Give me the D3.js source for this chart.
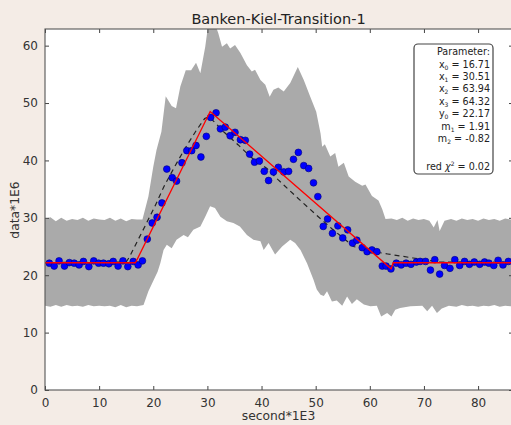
<!DOCTYPE html>
<html>
<head>
<meta charset="utf-8">
<script src="https://cdn.jsdelivr.net/npm/d3@7"></script>
<style>
	body { margin: 0; background: #f4ece6; }
	svg { display: block; font-family: "DejaVu Sans", sans-serif; }
</style>
</head>
<body>
<svg id="chart" width="511" height="425"></svg>
<script>
// measured points
const xValues = [0.8, 1.7, 2.6, 3.6, 4.5, 5.4, 6.3, 7.1, 8.1, 9.0, 9.9, 10.8, 11.8, 12.6, 13.5, 14.4, 15.3, 16.3, 17.2, 18.0,
	18.9, 19.8, 20.7, 21.6, 22.5, 23.5, 24.3, 25.3, 26.2, 27.1, 27.9, 28.8, 29.8, 30.6, 31.6, 32.4, 33.3, 34.2, 35.1, 36.1,
	37.0, 37.8, 38.7, 39.6, 40.5, 41.3, 42.2, 43.1, 44.1, 45.0, 45.9, 46.8, 47.8, 48.7, 49.6, 50.4, 51.4, 52.2, 53.1, 54.1,
	55.0, 55.9, 56.8, 57.6, 58.6, 59.5, 60.4, 61.3, 62.3, 63.0, 63.9, 64.9, 65.8, 66.7, 67.6, 68.6, 69.3, 70.3, 71.2, 72.0,
	72.9, 73.8, 74.8, 75.7, 76.6, 77.5, 78.4, 79.3, 80.3, 81.2, 82.0, 82.9, 83.7, 84.6, 85.6];
const yValues = [22.1, 21.6, 22.5, 21.6, 22.2, 22.1, 21.8, 22.4, 21.5, 22.5, 22.1, 22.1, 22.0, 22.4, 21.6, 22.5, 21.5, 22.4, 21.8, 22.5,
	26.3, 29.1, 30.1, 32.6, 38.5, 37.0, 36.4, 39.6, 41.7, 41.7, 42.6, 40.6, 44.2, 47.5, 48.3, 45.5, 45.8, 44.3, 44.9, 43.6,
	43.5, 41.1, 39.7, 39.9, 38.1, 36.5, 38.0, 38.8, 38.0, 38.1, 40.2, 41.4, 39.1, 38.6, 36.1, 33.7, 28.5, 29.8, 27.3, 28.6,
	26.5, 27.9, 25.6, 26.1, 24.8, 24.1, 24.4, 24.1, 21.6, 21.6, 21.1, 22.1, 21.8, 22.1, 21.9, 22.3, 22.4, 22.4, 20.9, 22.7,
	20.2, 21.7, 21.2, 22.7, 21.7, 22.4, 21.9, 22.3, 21.9, 22.3, 22.1, 21.7, 22.6, 21.8, 22.4];

// error band (upper / lower edges)
const upperX = [0, 1, 2, 3, 4, 5, 6, 7, 8, 9, 10, 11, 12, 13, 14, 15, 16, 17, 18, 19.1, 20, 20.6, 21.5, 22.3, 23.4, 24.2,
	25.0, 26.0, 27.0, 27.9, 28.7, 29.6, 30.2, 31.3, 32.0, 32.7, 33.6, 34.2, 35.1, 36.1, 37.3, 38.2, 38.8, 39.8, 40.7, 41.5,
	42.2, 43.1, 44.1, 45.3, 46.7, 47.8, 49.0, 50.1, 50.9, 51.2, 51.7, 52.7, 53.6, 54.2, 55.2, 56.1, 57.3, 58.6, 59.2, 60.4,
	61.6, 62.3, 62.9, 64, 65, 66, 67, 68, 69, 70, 71, 71.8, 72.5, 72.9, 73.8, 75, 76, 77, 78, 79, 80, 81, 82, 83, 84, 85, 86, 87];
const upperY = [29.8, 30.1, 29.4, 30.0, 29.5, 29.8, 29.6, 30.0, 29.5, 29.9, 29.7, 29.6, 30.0, 29.5, 29.9, 29.4, 29.8, 29.7, 29.7, 33.7, 38.9, 41.8, 45.0, 51.2, 49.5, 49.1,
	52.9, 55.7, 55.7, 57.0, 55.2, 59.8, 64.0, 64.0, 62.2, 59.8, 60.4, 59.5, 60.1, 58.7, 56.6, 55.5, 55.8, 54.0, 53.2, 51.1,
	52.3, 52.7, 52.0, 53.5, 56.3, 54.0, 51.1, 48.5, 44.7, 42.4, 42.8, 40.7, 41.3, 38.9, 39.6, 37.2, 36.3, 35.6, 35.8, 33.8,
	33.0, 31.5, 29.8, 29.9, 29.6, 30.0, 29.5, 29.9, 29.6, 29.8, 29.5, 28.3, 29.6, 27.7, 29.5, 29.8, 29.5, 29.9, 29.6, 29.8, 29.5, 29.9, 29.6, 29.8, 29.5, 29.9, 29.7, 29.7];
const lowerX = [0, 1, 2, 3, 4, 5, 6, 7, 8, 9, 10, 11, 12, 13, 14, 15, 16, 17, 18.2, 19.1, 20.1, 20.8, 21.3, 21.9, 22.5, 23.4,
	24.3, 25.6, 26.4, 27.4, 28.7, 29.6, 30.5, 31.4, 32.4, 33.6, 34.8, 36.0, 37.3, 38.5, 39.8, 40.4, 41.3, 42.5, 43.8, 45.3,
	46.2, 47.2, 48.4, 49.6, 50.2, 50.9, 51.5, 52.1, 53.0, 53.9, 54.9, 55.8, 56.7, 57.6, 58.9, 60.1, 61.3, 62.1, 63.2, 64.0,
	64.7, 65.6, 67.5, 69.7, 70.6, 71.5, 72.4, 73.3, 74.6, 76, 77, 78, 79, 80, 81, 82, 83, 84, 85, 86, 87];
const lowerY = [14.7, 14.5, 14.8, 14.5, 14.8, 14.6, 14.7, 14.5, 14.8, 14.6, 14.7, 14.6, 14.7, 14.4, 14.8, 14.4, 14.7, 14.6, 14.8, 17.2, 19.2, 20.6, 22.1, 24.4, 25.3, 24.7,
	26.2, 27.0, 26.6, 27.9, 28.5, 30.2, 32.0, 31.7, 30.2, 29.4, 29.1, 28.5, 27.0, 26.2, 25.9, 24.4, 25.6, 23.6, 25.0, 26.2,
	25.6, 24.4, 22.1, 19.2, 17.5, 16.6, 16.4, 17.2, 15.4, 15.6, 14.7, 16.3, 15.0, 15.8, 14.9, 14.6, 14.7, 12.8, 13.4, 12.8,
	14.0, 14.3, 14.6, 14.7, 13.7, 14.7, 13.4, 14.2, 14.7, 14.5, 14.8, 14.6, 14.7, 14.5, 14.7, 14.6, 14.8, 14.5, 14.7, 14.6, 14.6];

// smooth model (dashed)
const modelX = [0, 15.0, 15.6, 18.5, 20.3, 22.0, 24.0, 26.0, 28.0, 29.5, 30.3, 31.5, 33.0, 35.7, 38.0, 41.0, 43.1, 46.5,
	50.0, 53.0, 57.0, 60.0, 63.3, 66.0, 68.0, 70.3, 72.5, 87];
const modelY = [22.2, 22.3, 23.2, 28.6, 32.0, 35.5, 39.0, 42.3, 45.3, 47.3, 47.6, 46.5, 45.0, 42.7, 40.6, 38.6, 36.6, 33.6,
	30.6, 28.1, 25.0, 24.2, 23.7, 23.3, 23.0, 22.7, 22.3, 22.2];

// fit parameters
const paramNames = ['x0', 'x1', 'x2', 'x3', 'y0', 'm1', 'm2'];
const paramValues = [16.71, 30.51, 63.94, 64.32, 22.17, 1.91, -0.82];
const redChi2 = 0.02;

const xTicks = [0, 10, 20, 30, 40, 50, 60, 70, 80];
const yTicks = [0, 10, 20, 30, 40, 50, 60];

const margin = { left: 45, top: 29, right: -2, bottom: 35 };
const width = 511 - margin.left - margin.right;
const height = 425 - margin.top - margin.bottom;

const getScales = () => {
	const x = d3.scaleLinear().domain([0, 86.45]).range([0, width]);
	const y = d3.scaleLinear().domain([0, 62.9]).range([height, 0]);
	return { x, y };
};

const fitLine = () => {
	const p = {};
	paramNames.forEach((n, i) => { p[n] = paramValues[i]; });
	const y1 = p.y0 + p.m1 * (p.x1 - p.x0);
	const y2 = y1 + p.m2 * (p.x2 - p.x1);
	return [[0, p.y0], [p.x0, p.y0], [p.x1, y1], [p.x2, y2], [p.x3, p.y0], [87, p.y0]];
};

const svg = d3.select('#chart');
svg.append('rect').attr('width', 511).attr('height', 425).attr('fill', '#f4ece6');

const { x, y } = getScales();

const g = svg.append('g').attr('transform', 'translate(' + margin.left + ',' + margin.top + ')');

svg.append('defs').append('clipPath').attr('id', 'plot-clip')
	.append('rect').attr('width', width).attr('height', height);

g.append('rect').attr('width', width).attr('height', height).attr('fill', '#ffffff');

const plot = g.append('g').attr('clip-path', 'url(#plot-clip)');

// band
const line = d3.line().x(d => x(d[0])).y(d => y(d[1]));
const upperPts = upperX.map((v, i) => [v, upperY[i]]);
const lowerPts = lowerX.map((v, i) => [v, lowerY[i]]).reverse();
plot.append('path')
	.attr('d', line(upperPts) + 'L' + line(lowerPts).slice(1) + 'Z')
	.attr('fill', '#aaaaaa')
	.attr('stroke', 'none');

// dashed model
plot.append('path')
	.attr('d', line(modelX.map((v, i) => [v, modelY[i]])))
	.attr('fill', 'none')
	.attr('stroke', '#222')
	.attr('stroke-width', 1.2)
	.attr('stroke-dasharray', '5,4');

// data points
plot.selectAll('circle.pt')
	.data(xValues.map((v, i) => [v, yValues[i]]))
	.join('circle')
	.attr('class', 'pt')
	.attr('cx', d => x(d[0]))
	.attr('cy', d => y(d[1]))
	.attr('r', 3.4)
	.attr('fill', '#0000ff')
	.attr('stroke', '#00007a')
	.attr('stroke-width', 0.6);

// fit
plot.append('path')
	.attr('d', line(fitLine()))
	.attr('fill', 'none')
	.attr('stroke', '#ff0000')
	.attr('stroke-width', 1.3);

// axes
const tickColor = '#444';
const axisBottom = g.append('g').attr('transform', 'translate(0,' + height + ')')
	.call(d3.axisBottom(x).tickValues(xTicks).tickSizeInner(-4).tickSizeOuter(0).tickPadding(8));
const axisTop = g.append('g')
	.call(d3.axisTop(x).tickValues(xTicks).tickSizeInner(-4).tickSizeOuter(0).tickFormat(''));
const axisLeft = g.append('g')
	.call(d3.axisLeft(y).tickValues(yTicks).tickSizeInner(-4).tickSizeOuter(0).tickPadding(7));
const axisRight = g.append('g').attr('transform', 'translate(' + width + ',0)')
	.call(d3.axisRight(y).tickValues(yTicks).tickSizeInner(-4).tickSizeOuter(0).tickFormat(''));

[axisBottom, axisTop, axisLeft, axisRight].forEach(a => {
	a.select('.domain').remove();
	a.selectAll('line').attr('stroke', tickColor);
	a.selectAll('text').attr('fill', '#333').attr('font-size', 12).attr('font-family', 'DejaVu Sans');
});

g.append('rect').attr('width', width).attr('height', height)
	.attr('fill', 'none').attr('stroke', '#555').attr('stroke-width', 1.1);

// labels
svg.append('text').attr('x', 278.5).attr('y', 24).attr('text-anchor', 'middle')
	.attr('font-size', 14.5).attr('fill', '#222').text('Banken-Kiel-Transition-1');
svg.append('text').attr('x', 278.5).attr('y', 420).attr('text-anchor', 'middle')
	.attr('font-size', 12.3).attr('fill', '#333').text('second*1E3');
svg.append('text').attr('transform', 'translate(19,210) rotate(-90)').attr('text-anchor', 'middle')
	.attr('font-size', 12.3).attr('fill', '#333').text('data*1E6');

// parameter box
const box = svg.append('g');
box.append('rect').attr('x', 414).attr('y', 44).attr('width', 79).attr('height', 130)
	.attr('rx', 4).attr('fill', '#fff').attr('stroke', '#444').attr('stroke-width', 1.2);

const boxText = (yPos) => box.append('text').attr('x', 490).attr('y', yPos)
	.attr('text-anchor', 'end').attr('font-size', 9.6).attr('fill', '#222');

boxText(55).text('Parameter:');
paramNames.forEach((n, i) => {
	const t = boxText(67.5 + i * 12.4);
	t.append('tspan').text(n[0]);
	t.append('tspan').attr('font-size', 6).attr('dy', 2).text(n[1]);
	t.append('tspan').attr('dy', -2).text(' = ' + paramValues[i].toFixed(2));
});
const chi = boxText(170);
chi.append('tspan').text('red ');
chi.append('tspan').attr('font-style', 'italic').text('χ');
chi.append('tspan').attr('font-size', 6).attr('dy', -4).text('2');
chi.append('tspan').attr('dy', 4).text('  = ' + redChi2.toFixed(2));
</script>
</body>
</html>
